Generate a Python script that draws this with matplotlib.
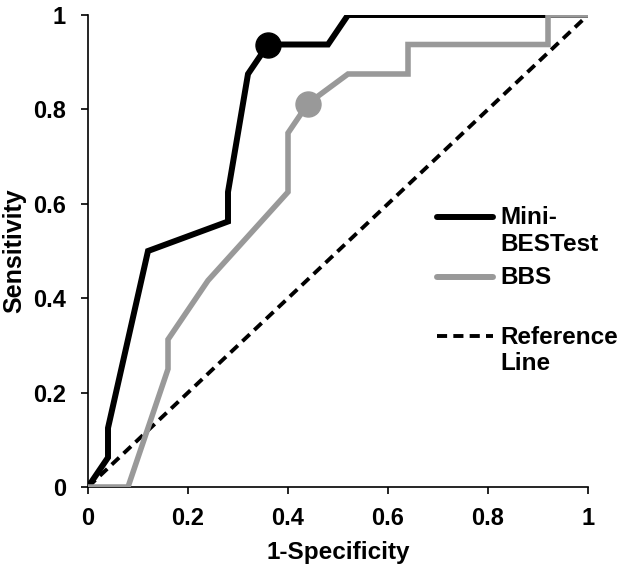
import numpy as np
import matplotlib
matplotlib.use("Agg")
import matplotlib.pyplot as plt
from matplotlib.legend_handler import HandlerLine2D

plt.rcParams['font.family'] = ['Liberation Sans', 'DejaVu Sans']
plt.rcParams['font.weight'] = 'bold'

# Data
mini_x = [0, 0.04, 0.04, 0.12, 0.28, 0.28, 0.32, 0.36, 0.48, 0.52, 1.0]
mini_y = [0, 0.0625, 0.125, 0.5, 0.5625, 0.625, 0.875, 0.9375, 0.9375, 1.0, 1.0]
mini_cut = 7
bbs_x = [0, 0.08, 0.16, 0.16, 0.24, 0.40, 0.40, 0.44, 0.52, 0.64, 0.64, 0.92, 0.92, 1.0]
bbs_y = [0, 0, 0.25, 0.3125, 0.4375, 0.625, 0.75, 0.8125, 0.875, 0.875, 0.9375, 0.9375, 1.0, 1.0]
bbs_cut = 7
ref_x = [0, 1]
ref_y = [0, 1]
ticks = [0, 0.2, 0.4, 0.6, 0.8, 1.0]
tick_labels = ['0', '0.2', '0.4', '0.6', '0.8', '1']
labels = ['Mini-\nBESTest', 'BBS\n', 'Reference\nLine']

TFS = 17
LFS = 17.5

fig = plt.figure(figsize=(6.19, 5.65), dpi=100)
ax = fig.add_axes([88/619, 78/565, 500/619, 472/565])

l1, = ax.plot(mini_x, mini_y, color='black', lw=4.3, marker='o', markevery=[mini_cut],
              markersize=18, solid_joinstyle='miter', zorder=3)
l2, = ax.plot(bbs_x, bbs_y, color='#999999', lw=4.0, marker='o', markevery=[bbs_cut],
              markersize=18, solid_joinstyle='miter', zorder=4)
l3, = ax.plot(ref_x, ref_y, color='black', lw=2.8, linestyle=(0, (2.6, 1.6)), zorder=2)

ax.set_xlim(0, 1)
ax.set_ylim(0, 1)
ax.set_xticks(ticks)
ax.set_xticklabels(tick_labels)
ax.set_yticks(ticks)
ax.set_yticklabels(tick_labels)
ax.tick_params(direction='out', length=5, width=1.2, labelsize=TFS)
ax.tick_params(axis='x', pad=9.5)
ax.tick_params(axis='y', pad=11)
for s in ['top', 'right']:
    ax.spines[s].set_visible(False)
for s in ['left', 'bottom']:
    ax.spines[s].set_linewidth(1.2)
ax.set_xlabel('1-Specificity', fontsize=17.5, fontweight='bold', labelpad=8)
ax.set_ylabel('Sensitivity', fontsize=18, fontweight='bold', labelpad=5)


class TopHandler(HandlerLine2D):
    def create_artists(self, legend, orig_handle, xdescent, ydescent, width, height,
                       fontsize, trans):
        arts = super().create_artists(legend, orig_handle, xdescent, ydescent, width,
                                      height, fontsize, trans)
        for a in arts:
            a.set_ydata(np.asarray(a.get_ydata(), dtype=float) + 0.6 * fontsize)
        return arts


h1 = plt.Line2D([], [], color='black', lw=4.3, solid_capstyle='round')
h2 = plt.Line2D([], [], color='#999999', lw=4.3, solid_capstyle='round')
h3 = plt.Line2D([], [], color='black', lw=2.8, linestyle=(0, (2.6, 1.6)))
th = TopHandler(marker_pad=0)
leg = ax.legend([h1, h2, h3], labels, loc='upper left', bbox_to_anchor=(0.698, 0.595),
                frameon=False, fontsize=LFS, handlelength=2.3, handletextpad=0.3,
                labelspacing=0.42, borderpad=0, borderaxespad=0,
                handler_map={h1: th, h2: th, h3: th})
for t in leg.get_texts():
    t.set_fontweight('bold')

fig.savefig('out.png', dpi=100)
